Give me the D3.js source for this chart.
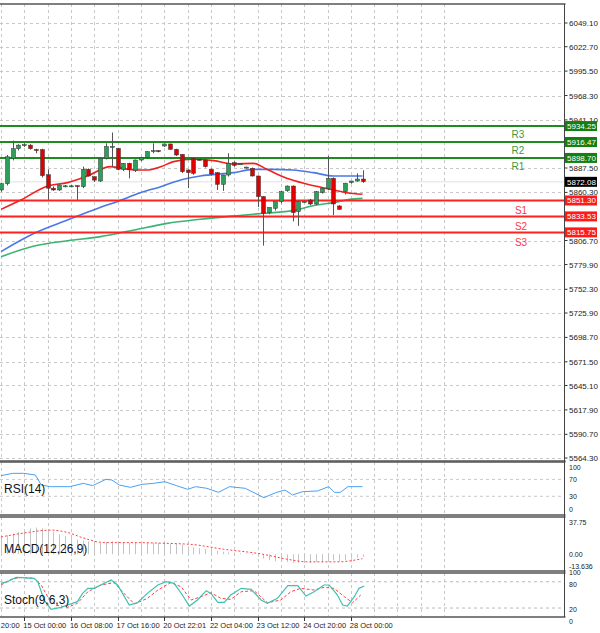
<!DOCTYPE html>
<html><head><meta charset="utf-8">
<script src="https://cdn.jsdelivr.net/npm/d3@7"></script>
<style>body{margin:0;background:#fff}svg{display:block}</style>
</head><body><svg id="c" width="600" height="633"></svg>
<script>
// ---- data ----
const candles = [ // [open, high, low, close]
[5863,5871,5861,5870],[5870,5902,5868,5900],[5898,5918,5896,5909],[5909,5914,5907,5913],[5913,5915,5911,5913.5],
[5913,5914,5908,5909],[5908,5909,5904,5907.5],[5908,5909,5877,5879],[5880,5886,5852,5865],[5865,5867,5862,5863],
[5863,5869,5862,5868.6],[5867.4,5868.5,5866,5867.6],[5867.4,5868.5,5866,5867.6],[5867.8,5868,5852,5866.7],[5866.7,5889,5865,5886],
[5886,5887,5878,5878.6],[5877.8,5878,5872,5874],[5873,5899,5872,5898.3],[5898.3,5915,5897,5911.3],[5911,5927,5889,5911.5],
[5909.4,5910,5885,5886],[5886,5893,5884,5892.7],[5892.7,5893.4,5876,5886],[5884.5,5897,5883,5896.4],[5896.4,5900,5895,5899.4],
[5899.4,5906,5898,5905.7],[5905.7,5915,5904,5906.8],[5906.8,5907.5,5905,5906.3],[5912,5914.5,5911,5914.3],[5914.3,5914.5,5908,5908.3],
[5908.3,5909,5901,5902],[5902.7,5903,5882,5883.4],[5885.3,5886,5865,5882.3],[5898.3,5899,5880,5881.6],[5897.2,5898,5896,5897],
[5896.4,5897,5888,5889],[5886,5887,5879,5880.8],[5882.3,5883,5863,5869.3],[5869.3,5880,5862,5879.7],[5879.7,5904,5878,5892.7],
[5893.4,5895,5889,5890.5],[5892,5893,5891,5892.2],[5888.2,5889,5887,5888.5],[5887.1,5888,5878,5878.6],[5878.6,5879,5844,5855.6],
[5855.6,5856,5801,5837],[5837.7,5840,5836,5843.7],[5842.6,5848,5840,5850],[5850,5862,5848,5861.1],[5862.2,5868,5861,5867.4],
[5867.4,5868,5828,5837.7],[5838.8,5851,5823,5850],[5850,5851,5849,5850.2],[5851.8,5853,5846,5847.4],[5847.4,5862,5846,5861.1],
[5860,5866,5859,5864.8],[5864.8,5901,5863,5876],[5876,5877,5835,5847.4],[5845.2,5846,5841,5841.4],[5861.1,5871,5858,5870.4],
[5871.2,5873,5870,5873],[5873,5881.6,5872,5875.2],[5875.2,5885,5871,5872.3]];
const maRed = [[0,5841.4],[3.4,5851.8],[8,5867.4],[11.4,5871.2],[14.8,5878.6],[18.8,5889],[19.9,5888.2],[22.8,5885.3],[25,5885.3],[27.4,5889],[29.6,5894.6],[33,5897.2],[36.5,5895.7],[39.9,5892],[43.3,5892.7],[45.6,5886],[49,5876],[52.4,5869.7],[55.8,5864.8],[59.3,5860],[62,5858.2]];
const maBlue = [[0,5794.3],[5.7,5814.7],[11.4,5829.5],[17.1,5843.7],[19.9,5850],[23.9,5860],[27.4,5866.7],[30.8,5874.1],[34.2,5878.6],[39.9,5882.3],[43.3,5886],[46.7,5886],[50.1,5885.3],[53.6,5882.3],[57,5878.6],[62,5878.6]];
const maGreen = [[0,5788.7],[5.7,5800.6],[11.4,5806.5],[17.1,5811],[22.8,5818.4],[28.5,5825.8],[34.2,5830.3],[39.9,5834],[45,5837],[50.1,5840],[54.1,5846.3],[57,5848.9],[59.8,5852.6],[62,5853.7]];
const levels = [["R3",5934.25],["R2",5916.47],["R1",5898.70],["S1",5851.30],["S2",5833.53],["S3",5815.75]];
const lastPrice = 5872.08;
const priceTicks = [6049.10,6022.70,5995.50,5968.30,5941.10,5887.50,5860.30,5806.70,5779.90,5752.30,5725.90,5698.70,5671.50,5645.10,5617.90,5590.70,5564.30];
const rsi = [[0,78.8],[2,84.3],[3.9,84.3],[5.9,80.4],[6.9,56.7],[8.5,52.8],[11.8,52.8],[14.1,60.7],[15.7,55.2],[18,70.1],[19,68.5],[20.3,56.7],[22.2,51.2],[24.2,58.3],[26.2,60.7],[28.1,64.6],[30.1,55.2],[32,46.5],[33.4,52.8],[35.3,48.9],[37.3,39.4],[39.2,52.8],[41.9,48.9],[45.1,26.8],[47.1,38.6],[48.7,44.9],[50,33.1],[51.7,41],[54.3,42.6],[56.2,52.8],[57.2,39.4],[58.2,39.4],[59.5,52.8],[62,52.8]];
const macdHist = [21,22,24,26,28,30,31,30,28,26,23,21,19,17,16,15,14,13,14,15,15,14,13,13,13,13,13,13,13,12,12,11,9,8,7,6,5,4,3,2,2,1,1,-1,-3,-5,-7,-8,-9,-9,-10,-10,-10,-10,-9,-9,-8,-7,-8,-7,-5,-4,-3];
const macdSignal = [[0,20],[3.9,24.6],[8.5,28],[11.2,25.6],[14.4,18.3],[17.7,13.5],[23,13.5],[27.6,12.8],[32.8,11.3],[38.1,5.9],[44.6,0.4],[49.2,-5.9],[52.5,-8.8],[57.8,-8.8],[62,-5.1]];
const stochMain = [[0,76.4],[1.1,80.2],[2.6,90],[5.7,87.8],[6.3,80.2],[7.4,38.3],[8.6,17],[10.3,21.6],[11.4,26.9],[13.1,34.5],[14,53.5],[14.9,65],[16,65],[17.1,72.6],[18.9,84],[20,72.6],[22,26.9],[23.4,32.2],[25.1,53.5],[26.9,72.6],[28.3,80.2],[29.7,76.4],[31.1,49.7],[32.3,24.6],[33.7,38.3],[35.2,59.6],[36,53.5],[37.2,33],[38.3,33],[39.4,49.7],[41.2,65],[42.9,62.7],[44.6,38.3],[45.7,30.7],[47.4,42.1],[49.2,71],[50.9,71],[52.3,47.4],[53.7,57.3],[55.4,72.6],[56.3,72.6],[57.7,49.7],[58.6,26.9],[59.4,24.6],[60.6,45.9],[61.4,65],[62.3,70.3]];
const stochSignal = [[0,72.6],[1.7,85.5],[3.4,90],[5.7,87.8],[6.9,72.6],[8,45.9],[9.4,26.9],[11.4,21.6],[13.1,30.7],[14.9,57.3],[17.1,72.6],[19.4,77.9],[21.1,53.5],[22.9,29.2],[25.1,42.1],[26.9,61.1],[29.1,77.9],[30.9,68.7],[32.6,38.3],[34.3,45.9],[36,55.1],[37.7,42.1],[39.4,39.8],[41.2,57.3],[43.4,59.6],[45.7,32.2],[48,38.3],[49.7,57.3],[51.4,65],[53.7,61.1],[55.4,67.2],[57.1,65],[58.9,45.9],[60.3,32.2],[61.7,49.7]];
const timeLabels = [[-4,"14 Oct 20:00"],[4,"15 Oct 00:00"],[12,"16 Oct 08:00"],[20,"17 Oct 16:00"],[28,"20 Oct 22:01"],[36,"22 Oct 04:00"],[44,"23 Oct 12:00"],[52,"24 Oct 20:00"],[60,"28 Oct 00:00"]];

// ---- layout ----
const svg = d3.select("#c");
const R = 564.5, FONT = "Liberation Sans, Arial, sans-serif";
const x = d3.scaleLinear().domain([0, 62]).range([1, 362.5]);
const y = d3.scaleLinear().domain([5564.3, 6049.1]).range([458, 23]);
const yR = d3.scaleLinear().domain([0, 100]).range([509, 466.7]);
const yM = d3.scaleLinear().domain([-13.636, 37.75]).range([566, 521.7]);
const yS = d3.scaleLinear().domain([0, 100]).range([616.8, 573]);
const grid = "#c8c8c8";
const clip = svg.append("defs").append("clipPath").attr("id","cp").append("rect").attr("x",0).attr("y",0).attr("width",R).attr("height",633);
const g = svg.append("g").attr("clip-path","url(#cp)");

// vertical grid
const vg = d3.range(-8, 80, 4);
[[4,460],[462,514],[517,570],[573,616]].forEach(([a,b])=>{
  g.selectAll(null).data(vg).enter().append("line")
    .attr("x1",d=>Math.round(x(d))+0.5).attr("x2",d=>Math.round(x(d))+0.5).attr("y1",a).attr("y2",b)
    .attr("stroke",grid).attr("stroke-dasharray","3,3");
});
// price grid + axis labels
g.selectAll(null).data(priceTicks).enter().append("line")
  .attr("x1",0).attr("x2",R).attr("y1",d=>Math.round(y(d))+0.5).attr("y2",d=>Math.round(y(d))+0.5)
  .attr("stroke",grid).attr("stroke-dasharray","3,3");
svg.selectAll(null).data(priceTicks).enter().append("text")
  .attr("x",569).attr("y",d=>y(d)+3).text(d=>d.toFixed(2))
  .attr("font-family",FONT).attr("font-size",8).attr("fill","#222");
svg.selectAll(null).data(priceTicks).enter().append("line")
  .attr("x1",R).attr("x2",R+3).attr("y1",d=>y(d)).attr("y2",d=>y(d)).attr("stroke","#333");

// last price line
g.append("line").attr("x1",0).attr("x2",R).attr("y1",y(lastPrice)).attr("y2",y(lastPrice)).attr("stroke","#e0e0e0");

// MAs
const ln = d3.line().x(d=>x(d[0])).y(d=>y(d[1])).curve(d3.curveMonotoneX);
g.append("path").attr("d",ln(maGreen)).attr("fill","none").attr("stroke","#3cb371").attr("stroke-width",1.6);
g.append("path").attr("d",ln(maBlue)).attr("fill","none").attr("stroke","#4a78e8").attr("stroke-width",1.6);
g.append("path").attr("d",ln(maRed)).attr("fill","none").attr("stroke","#f02020").attr("stroke-width",1.6);

// levels
levels.forEach(([n,v])=>{
  const col = n[0]==="R" ? "#1f8a1f" : "#ff2020";
  g.append("line").attr("x1",0).attr("x2",R).attr("y1",y(v)).attr("y2",y(v)).attr("stroke",col).attr("stroke-width",2);
  svg.append("text").attr("x",n[0]==="R"?518:521).attr("y",y(v)+(n[0]==="R"?12:14)).attr("text-anchor","middle")
    .text(n).attr("font-family",FONT).attr("font-size",10).attr("fill",n[0]==="R"?"#3c9a3c":"#ff3a3a");
  svg.append("rect").attr("x",565).attr("y",y(v)-5).attr("width",32).attr("height",10).attr("fill",n[0]==="R"?"#128012":"#ff1a1a");
  svg.append("text").attr("x",567).attr("y",y(v)+3).text(v.toFixed(2)).attr("font-family",FONT).attr("font-size",8).attr("fill","#fff");
});
svg.append("rect").attr("x",565).attr("y",y(lastPrice)-5).attr("width",32).attr("height",10).attr("fill","#000");
svg.append("text").attr("x",567).attr("y",y(lastPrice)+3).text(lastPrice.toFixed(2)).attr("font-family",FONT).attr("font-size",8).attr("fill","#fff");

// candles
const cg = g.selectAll(null).data(candles).enter().append("g");
cg.append("line").attr("x1",(d,i)=>Math.round(x(i))+0.5).attr("x2",(d,i)=>Math.round(x(i))+0.5)
  .attr("y1",d=>y(d[1])).attr("y2",d=>y(d[2])).attr("stroke","#555");
cg.append("rect").attr("x",(d,i)=>Math.round(x(i))-1.5).attr("width",4)
  .attr("y",d=>y(Math.max(d[0],d[3]))).attr("height",d=>Math.max(1,Math.abs(y(d[0])-y(d[3]))))
  .attr("fill",d=>d[3]>=d[0]?"#2e9e5b":"#e00000").attr("stroke","#333").attr("stroke-width",0.5);

// RSI
[70,30].forEach(v=>g.append("line").attr("x1",0).attr("x2",R).attr("y1",yR(v)).attr("y2",yR(v)).attr("stroke",grid).attr("stroke-dasharray","3,3"));
g.append("path").attr("d",d3.line().x(d=>x(d[0])).y(d=>yR(d[1]))(rsi)).attr("fill","none").attr("stroke","#4aa0f0").attr("stroke-width",1);
[100,70,30,0].forEach(v=>svg.append("text").attr("x",569).attr("y",yR(v)+3).text(v).attr("font-family",FONT).attr("font-size",7).attr("fill","#222"));
svg.append("text").attr("x",4).attr("y",493).text("RSI(14)").attr("font-family",FONT).attr("font-size",12).attr("fill","#111");

// MACD
g.selectAll(null).data(macdHist).enter().append("line")
  .attr("x1",(d,i)=>Math.round(x(i))+0.5).attr("x2",(d,i)=>Math.round(x(i))+0.5)
  .attr("y1",yM(0)).attr("y2",d=>yM(d)).attr("stroke","#c4c4c4");
g.append("path").attr("d",d3.line().x(d=>x(d[0])).y(d=>yM(d[1])).curve(d3.curveMonotoneX)(macdSignal))
  .attr("fill","none").attr("stroke","#ff4040").attr("stroke-dasharray","2,2");
[[37.75,"37.75"],[0,"0.00"],[-13.636,"-13.636"]].forEach(([v,t])=>svg.append("text").attr("x",569).attr("y",yM(v)+3).text(t).attr("font-family",FONT).attr("font-size",7).attr("fill","#222"));
svg.append("text").attr("x",4).attr("y",553).text("MACD(12,26,9)").attr("font-family",FONT).attr("font-size",12).attr("fill","#111");

// Stoch
[80,20].forEach(v=>g.append("line").attr("x1",0).attr("x2",R).attr("y1",yS(v)).attr("y2",yS(v)).attr("stroke","#bbb").attr("stroke-dasharray","3,3"));
g.append("path").attr("d",d3.line().x(d=>x(d[0])).y(d=>yS(d[1]))(stochSignal)).attr("fill","none").attr("stroke","#ff4040").attr("stroke-dasharray","3,2");
g.append("path").attr("d",d3.line().x(d=>x(d[0])).y(d=>yS(d[1]))(stochMain)).attr("fill","none").attr("stroke","#40c0b0").attr("stroke-width",1.2);
[[100,-1],[80,2],[20,1],[0,4]].forEach(([v,o])=>svg.append("text").attr("x",569).attr("y",yS(v)+3+o).text(v).attr("font-family",FONT).attr("font-size",7).attr("fill","#222"));
svg.append("text").attr("x",4).attr("y",604).text("Stoch(9,6,3)").attr("font-family",FONT).attr("font-size",12).attr("fill","#111");

// panel frames
[[4,461],[462,515],[517,571],[573,617]].forEach(([a,b])=>{
  svg.append("line").attr("x1",0).attr("x2",R+1).attr("y1",a).attr("y2",a).attr("stroke","#555").attr("stroke-width",1.5);
  svg.append("line").attr("x1",0).attr("x2",R+1).attr("y1",b).attr("y2",b).attr("stroke","#555").attr("stroke-width",1.5);
});
svg.append("line").attr("x1",R).attr("x2",R).attr("y1",4).attr("y2",617).attr("stroke","#444");

// time axis
const tg = svg.append("g").attr("clip-path","url(#cp)");
timeLabels.forEach(([i,t])=>{
  tg.append("line").attr("x1",Math.round(x(i))+0.5).attr("x2",Math.round(x(i))+0.5).attr("y1",617).attr("y2",621).attr("stroke","#333");
  tg.append("text").attr("x",x(i)-1).attr("y",628).text(t).attr("font-family",FONT).attr("font-size",7.5).attr("fill","#222").attr("text-anchor","start");
});
</script></body></html>
